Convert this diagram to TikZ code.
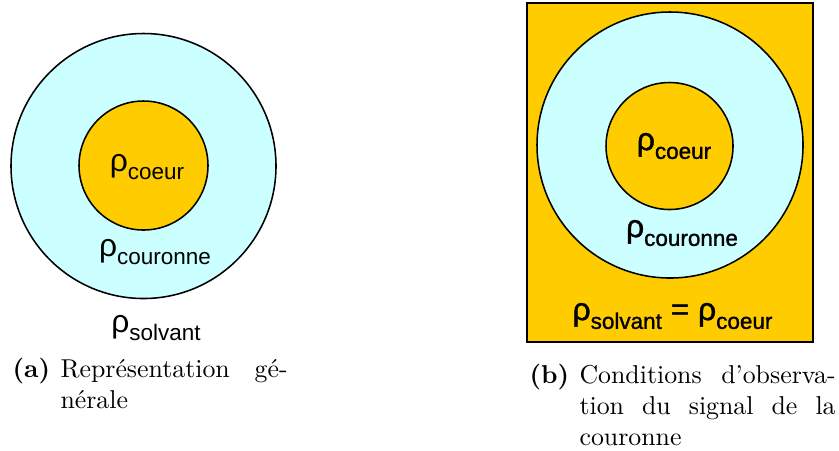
\documentclass[tikz,border=0pt]{standalone}
\usepackage{fontspec}
\newfontfamily\arialfont{Liberation Sans}
\newfontfamily\arialheavy[FakeBold=1.2]{Liberation Sans}
\usepackage{xcolor}
\definecolor{coeurorange}{HTML}{FFCC00}
\definecolor{couronnecyan}{HTML}{CCFFFF}
\usetikzlibrary{positioning}

% density label: rho with a lowered subscript
\newcommand{\dens}[1]{ρ\raisebox{-3.4pt}{\fontsize{8.7}{9}\selectfont #1}}

\tikzset{
  rholabel/.style={inner sep=0pt, font=\arialfont\fontsize{12.3}{14}\selectfont},
  rhoheavy/.style={rholabel, font=\arialheavy\fontsize{12.3}{14}\selectfont},
  subcap/.style={anchor=base west, inner sep=0pt, font=\fontsize{10}{12}\selectfont},
  edge/.style={draw=black, line width=0.6pt}
}

\begin{document}
\begin{tikzpicture}[x=0.387pt, y=-0.387pt]
  \useasboundingbox (0,0) rectangle (839,450);

  % (a) general picture
  \draw[edge, fill=couronnecyan] (143.5,166) circle[radius=132.5];
  \draw[edge, fill=coeurorange] (143.5,165.5) circle[radius=64.5];
  \node[rholabel] (coeurA) at (147,167) {\dens{coeur}};
  \node[rholabel] (couronneA) at (155,252) {\dens{couronne}};
  \node[rholabel] (solvantA) at (156,328) {\dens{solvant}};

  % (b) matched solvent
  \draw[edge, fill=coeurorange] (527,3) rectangle (813,342);
  \draw[edge, fill=couronnecyan] (670,145) circle[radius=133];
  \draw[edge, fill=coeurorange] (669.5,146) circle[radius=63.5];
  \node[rhoheavy] (coeurB) at (674,146) {\dens{coeur}};
  \node[rhoheavy] (couronneB) at (682,233) {\dens{couronne}};
  \node[rhoheavy] (solvantB) at (672.5,316) {\dens{solvant} = \dens{coeur}};

  % Captions
  \node[subcap] (tagA) at (12,377) {\textbf{(a)}};
  \node[subcap] (capA) at (60,377) {\parbox[t]{87.9pt}{Représentation\hfill gé-\\nérale}};
  \node[subcap] (tagB) at (529,383) {\textbf{(b)}};
  \node[subcap] (capB) at (579,383) {\parbox[t]{99.1pt}{Conditions\hfill d'observa-\\tion\hfill du\hfill signal\hfill de\hfill la\\couronne}};
\end{tikzpicture}
\end{document}
